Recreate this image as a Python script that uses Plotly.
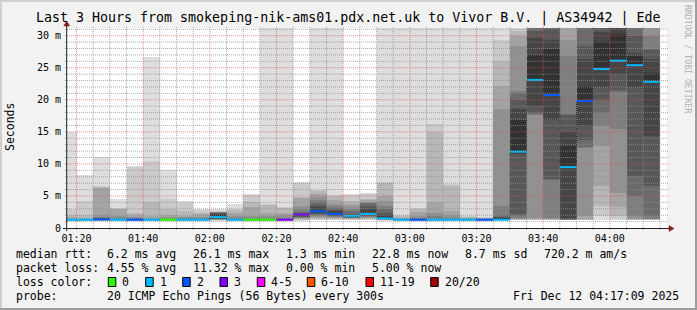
import plotly.graph_objects as go
import pandas as pd

# ---------------- data ----------------
title_text = "Last 3 Hours from smokeping-nik-ams01.pdx.net.uk to Vivor B.V. | AS34942 | Ede"
day = "2025-12-12"
window_start = "01:17:09"
window_end = "04:17:09"

interval_end = ["01:20", "01:25", "01:30", "01:35", "01:40", "01:45", "01:50", "01:55", "02:00",
                "02:05", "02:10", "02:15", "02:20", "02:25", "02:30", "02:35", "02:40", "02:45",
                "02:50", "02:55", "03:00", "03:05", "03:10", "03:15", "03:20", "03:25", "03:30",
                "03:35", "03:40", "03:45", "03:50", "03:55", "04:00", "04:05", "04:10", "04:15"]

median_ms = [1.3, 1.3, 1.35, 1.3, 1.3, 1.3, 1.3, 1.3, 1.3, 1.7, 1.3, 1.3, 1.3, 1.3, 2.1, 2.6, 2.2, 1.9,
             2.2, 1.5, 1.3, 1.3, 1.3, 1.3, 1.3, 1.3, 1.3, 11.9, 23.1, 20.75, 9.5, 19.8, 24.8, 26.1,
             25.4, 22.8]

lost_pings = [1, 1, 2, 1, 2, 1, 0, 1, 1, 1, 1, 0, 0, 3, 3, 2, 2, 1, 1, 1, 1, 2, 1, 1, 1, 2, 1, 1, 1,
              2, 1, 2, 1, 1, 1, 1]

# 20 sorted ping round-trip times (ms) per 5-minute interval
ping_rtts = [
    [1.15, 1.2, 1.22, 1.24, 1.26, 1.27, 1.28, 1.29, 1.3, 1.31, 1.32, 1.34, 1.36, 1.4, 1.45, 1.55, 1.8, 2.1, 3.0, 15.0],
    [1.15, 1.2, 1.22, 1.24, 1.26, 1.27, 1.28, 1.29, 1.3, 1.31, 1.32, 1.34, 1.36, 1.4, 1.45, 1.5, 1.6, 2.1, 4.2, 8.2],
    [1.15, 1.2, 1.22, 1.24, 1.26, 1.28, 1.3, 1.32, 1.34, 1.36, 1.38, 1.42, 1.5, 1.6, 1.8, 2.1, 6.3, 6.4, 6.5, 11.0],
    [1.15, 1.2, 1.22, 1.24, 1.26, 1.27, 1.28, 1.29, 1.3, 1.31, 1.33, 1.35, 1.4, 1.5, 1.6, 1.85, 3.0, 3.1, 3.15, 4.6],
    [1.15, 1.2, 1.22, 1.24, 1.26, 1.27, 1.28, 1.29, 1.3, 1.31, 1.33, 1.35, 1.4, 1.5, 1.6, 1.8, 2.1, 2.3, 9.6, 9.65],
    [1.15, 1.2, 1.22, 1.24, 1.26, 1.27, 1.28, 1.29, 1.3, 1.31, 1.33, 1.35, 1.4, 1.45, 1.5, 1.6, 1.85, 4.1, 10.4, 26.6],
    [1.15, 1.2, 1.22, 1.24, 1.26, 1.27, 1.28, 1.29, 1.3, 1.31, 1.33, 1.35, 1.4, 1.45, 1.55, 1.85, 2.0, 3.0, 4.5, 9.0],
    [1.15, 1.2, 1.22, 1.24, 1.26, 1.27, 1.28, 1.29, 1.3, 1.31, 1.33, 1.35, 1.4, 1.5, 1.6, 1.75, 1.85, 2.6, 4.0, 4.15],
    [1.15, 1.2, 1.22, 1.24, 1.26, 1.27, 1.28, 1.29, 1.3, 1.31, 1.33, 1.35, 1.4, 1.5, 1.6, 1.7, 2.2, 2.4, 2.85, 2.9],
    [1.15, 1.25, 1.3, 1.35, 1.4, 1.45, 1.5, 1.55, 1.6, 1.85, 2.1, 2.3, 2.35, 2.4, 2.5, 2.55, 2.6, 2.65, 2.7, 3.0],
    [1.15, 1.2, 1.22, 1.24, 1.26, 1.27, 1.28, 1.29, 1.3, 1.31, 1.33, 1.35, 1.4, 1.5, 1.6, 1.8, 2.4, 2.9, 3.0, 3.8],
    [1.15, 1.2, 1.22, 1.24, 1.26, 1.27, 1.28, 1.29, 1.3, 1.31, 1.33, 1.35, 1.4, 1.5, 1.6, 1.85, 3.3, 4.1, 5.2, 5.3],
    [1.15, 1.2, 1.22, 1.24, 1.26, 1.27, 1.28, 1.29, 1.3, 1.31, 1.33, 1.35, 1.4, 1.5, 1.6, 1.8, 2.3, 3.6, 3.7, 40.0],
    [1.15, 1.2, 1.22, 1.24, 1.26, 1.27, 1.28, 1.29, 1.3, 1.31, 1.33, 1.35, 1.4, 1.5, 1.7, 2.0, 2.4, 3.15, 3.2, 40.0],
    [1.2, 1.3, 1.4, 1.5, 1.6, 1.7, 1.75, 1.8, 1.9, 2.0, 2.1, 2.2, 2.4, 2.6, 2.9, 3.4, 4.8, 4.9, 7.05, 7.1],
    [1.3, 1.4, 1.5, 1.65, 1.8, 1.95, 2.1, 2.25, 2.4, 2.55, 2.7, 3.2, 3.6, 4.0, 4.4, 4.8, 5.3, 5.8, 6.0, 40.0],
    [1.3, 1.4, 1.5, 1.6, 1.7, 1.8, 1.9, 2.0, 2.1, 2.2, 2.4, 2.7, 2.9, 3.2, 3.4, 3.8, 4.4, 5.0, 5.1, 40.0],
    [1.25, 1.35, 1.45, 1.55, 1.6, 1.65, 1.7, 1.75, 1.8, 1.85, 1.95, 2.1, 2.3, 2.6, 3.0, 3.4, 3.8, 4.2, 5.2, 5.3],
    [1.3, 1.4, 1.5, 1.6, 1.7, 1.8, 1.9, 2.0, 2.1, 2.2, 2.4, 3.0, 3.5, 3.9, 4.0, 4.2, 4.4, 4.5, 5.35, 5.4],
    [1.2, 1.25, 1.3, 1.35, 1.4, 1.45, 1.5, 1.55, 1.6, 1.7, 1.8, 2.0, 2.4, 2.9, 3.4, 4.2, 5.0, 7.1, 7.2, 40.0],
    [1.15, 1.2, 1.22, 1.24, 1.26, 1.27, 1.28, 1.29, 1.3, 1.31, 1.33, 1.35, 1.4, 1.45, 1.5, 1.6, 1.7, 1.9, 2.1, 40.0],
    [1.15, 1.2, 1.22, 1.24, 1.26, 1.27, 1.28, 1.29, 1.3, 1.31, 1.33, 1.35, 1.4, 1.5, 1.6, 1.9, 2.5, 3.0, 3.15, 40.0],
    [1.15, 1.2, 1.22, 1.24, 1.26, 1.27, 1.28, 1.29, 1.3, 1.31, 1.33, 1.35, 1.4, 1.5, 1.8, 2.4, 4.0, 15.0, 16.2, 40.0],
    [1.15, 1.2, 1.22, 1.24, 1.26, 1.27, 1.28, 1.29, 1.3, 1.31, 1.33, 1.35, 1.4, 1.5, 1.7, 2.0, 2.6, 6.5, 6.9, 40.0],
    [1.15, 1.2, 1.22, 1.24, 1.26, 1.27, 1.28, 1.29, 1.3, 1.31, 1.33, 1.35, 1.4, 1.45, 1.5, 1.6, 1.7, 1.75, 1.8, 40.0],
    [1.15, 1.2, 1.22, 1.24, 1.26, 1.27, 1.28, 1.29, 1.3, 1.31, 1.33, 1.35, 1.4, 1.45, 1.5, 1.55, 1.6, 1.65, 1.7, 40.0],
    [1.2, 1.25, 1.28, 1.3, 1.32, 1.35, 1.4, 1.45, 1.5, 1.55, 1.6, 1.7, 1.85, 2.1, 3.4, 18.5, 22.1, 26.0, 29.3, 40.0],
    [1.3, 1.35, 1.4, 1.45, 1.5, 1.6, 1.8, 2.2, 11.6, 11.9, 16.9, 18.5, 20.0, 21.1, 21.3, 28.4, 29.9, 30.8, 31.1, 40.0],
    [1.3, 1.35, 1.4, 1.5, 1.6, 17.7, 17.8, 17.9, 19.0, 23.1, 27.0, 29.7, 30.8, 35.0, 40.0, 45.0, 50.0, 55.0, 60.0, 70.0],
    [1.3, 1.35, 1.4, 1.45, 1.5, 1.55, 7.5, 7.6, 16.9, 20.75, 27.9, 29.4, 31.0, 35.0, 40.0, 45.0, 50.0, 55.0, 60.0, 70.0],
    [1.3, 1.32, 1.34, 1.36, 1.38, 1.4, 1.42, 1.45, 1.5, 9.5, 12.8, 15.0, 17.7, 17.8, 26.8, 29.4, 31.3, 35.0, 40.0, 45.0],
    [1.3, 1.35, 1.4, 1.5, 1.8, 12.5, 12.6, 13.8, 15.9, 19.8, 22.1, 26.3, 28.4, 31.3, 35.0, 40.0, 45.0, 50.0, 55.0, 60.0],
    [1.3, 1.8, 3.4, 6.5, 12.8, 15.9, 17.9, 20.0, 22.0, 24.8, 29.2, 30.5, 31.5, 35.0, 40.0, 45.0, 50.0, 55.0, 60.0, 70.0],
    [1.3, 1.4, 1.8, 3.2, 5.5, 15.4, 21.3, 21.5, 24.1, 26.1, 30.3, 31.5, 35.0, 40.0, 45.0, 50.0, 55.0, 60.0, 70.0, 80.0],
    [1.3, 1.35, 1.4, 1.45, 1.5, 1.8, 5.0, 8.1, 22.0, 25.4, 26.8, 27.3, 29.9, 31.5, 35.0, 40.0, 45.0, 50.0, 55.0, 60.0],
    [1.3, 1.35, 1.4, 1.42, 1.45, 1.5, 1.8, 6.5, 14.3, 22.8, 24.2, 26.3, 27.8, 28.0, 29.9, 31.5, 35.0, 40.0, 45.0, 50.0],
]

y_tick_values = [0, 5, 10, 15, 20, 25, 30]
y_tick_labels = ["0", "5 m", "10 m", "15 m", "20 m", "25 m", "30 m"]

loss_labels = ["0", "1", "2", "3", "4-5", "6-10", "11-19", "20/20"]
loss_upper = [0, 1, 2, 3, 5, 10, 19, 20]
loss_colors = ["#26ff00", "#00b8ff", "#0059ff", "#7e00ff", "#ff00ff", "#ff5500", "#ff0000", "#a10000"]

stats_rows = [
    ["median rtt:", "6.2 ms avg", "26.1 ms max", "1.3 ms min", "22.8 ms now", "8.7 ms sd", "720.2 m am/s"],
    ["packet loss:", "4.55 % avg", "11.32 % max", "0.00 % min", "5.00 % now"],
]
probe_text = ["probe:", "20 ICMP Echo Pings (56 Bytes) every 300s", "Fri Dec 12 04:17:09 2025"]
watermark = "RRDTOOL / TOBI OETIKER"

# ---------------- layout constants ----------------
FIG_W, FIG_H = 697, 310
L, T, W, H = 67, 28, 600, 200
Y_MAX = 31.2
MONO = "DejaVu Sans Mono"
BACK = "#F2F2F2"


def xp(X):
    return (X - L) / W


def yp(Y):
    return (T + H - Y) / H


ends = pd.to_datetime([f"{day} {t}" for t in interval_end])
starts = ends - pd.Timedelta(minutes=5)
centers = ends - pd.Timedelta(seconds=150)
t0 = pd.Timestamp(f"{day} {window_start}")
t1 = pd.Timestamp(f"{day} {window_end}")

fig = go.Figure()

# smoke: band between consecutive sorted pings, shaded by rank (smokeping style)
n_ping = len(ping_rtts[0])
half = n_ping / 2
for k in range(n_ping - 1):
    r = k + 1
    ibot = min(r, n_ping - r)
    g = int(190 / half * (half - ibot)) + 50
    base = [p[k] for p in ping_rtts]
    height = [p[k + 1] - p[k] for p in ping_rtts]
    fig.add_trace(go.Bar(x=centers, y=height, base=base, width=300000,
                         marker=dict(color=f"rgb({g},{g},{g})", line=dict(width=0)),
                         showlegend=False, hoverinfo="skip"))

# median connector (step line)
step_x = list(starts) + [ends[-1]]
step_y = list(median_ms) + [median_ms[-1]]
fig.add_trace(go.Scatter(x=step_x, y=step_y, mode="lines", line=dict(shape="hv", color="#202020", width=1, dash="1px,1px"),
                         showlegend=False, hoverinfo="skip"))


def loss_bucket(n):
    for i, up in enumerate(loss_upper):
        if n <= up:
            return i
    return len(loss_upper) - 1


for bi in range(len(loss_labels)):
    xs, ys = [], []
    for s, e, m, lp in zip(starts, ends, median_ms, lost_pings):
        if loss_bucket(lp) == bi:
            xs += [s, e, None]
            ys += [m, m, None]
    if xs:
        fig.add_trace(go.Scatter(x=xs, y=ys, mode="lines", line=dict(color=loss_colors[bi], width=2),
                                 showlegend=False, hoverinfo="skip"))

shapes = []
GRID = "rgba(143,143,143,0.75)"
MGRID = "rgba(222,79,79,0.6)"
# horizontal grid
for v in range(1, int(Y_MAX) + 1):
    shapes.append(dict(type="line", xref="paper", yref="y", x0=xp(L - 2), x1=xp(L + W + 2), y0=v, y1=v,
                       line=dict(color=MGRID if v % 5 == 0 else GRID, width=1, dash="1px,1px"), layer="above"))
# vertical grid
tt = pd.Timestamp(f"{day} 01:20")
while tt < t1:
    major = (tt.minute % 20 == 0)
    shapes.append(dict(type="line", xref="x", yref="paper", x0=tt, x1=tt, y0=yp(T + H + 2), y1=yp(T - 2),
                       line=dict(color=MGRID if major else GRID, width=1, dash="1px,1px"), layer="above"))
    tt += pd.Timedelta(minutes=5)
tt = pd.Timestamp(f"{day} 01:20")
while tt < t1 + pd.Timedelta(minutes=1):
    tt += pd.Timedelta(minutes=5)

AXIS = "#1F1F1F"
ARROW = "#801F1F"
# axes lines
shapes.append(dict(type="line", xref="paper", yref="paper", x0=xp(L - 0.3), x1=xp(L - 0.3), y0=yp(T + H + 3), y1=yp(T - 5),
                   line=dict(color=AXIS, width=1), layer="above"))
shapes.append(dict(type="line", xref="paper", yref="paper", x0=xp(L - 4), x1=xp(L + W + 6), y0=yp(T + H + 0.5), y1=yp(T + H + 0.5),
                   line=dict(color=AXIS, width=1), layer="above"))
# arrows
ax = L - 0.3
shapes.append(dict(type="path", xref="paper", yref="paper",
                   path=f"M {xp(ax-3)},{yp(T-2)} L {xp(ax+3)},{yp(T-2)} L {xp(ax)},{yp(T-7)} Z",
                   fillcolor=ARROW, line=dict(color=ARROW, width=0.5), layer="above"))
ay = T + H + 0.5
shapes.append(dict(type="path", xref="paper", yref="paper",
                   path=f"M {xp(L+W+2)},{yp(ay-3)} L {xp(L+W+2)},{yp(ay+3)} L {xp(L+W+7)},{yp(ay)} Z",
                   fillcolor=ARROW, line=dict(color=ARROW, width=0.5), layer="above"))
# frame shading
shapes.append(dict(type="rect", xref="paper", yref="paper", x0=xp(0), x1=xp(FIG_W), y0=yp(0), y1=yp(2),
                   fillcolor="#CFCFCF", line=dict(width=0), layer="above"))
shapes.append(dict(type="rect", xref="paper", yref="paper", x0=xp(0), x1=xp(2), y0=yp(0), y1=yp(FIG_H),
                   fillcolor="#CFCFCF", line=dict(width=0), layer="above"))
shapes.append(dict(type="rect", xref="paper", yref="paper", x0=xp(0), x1=xp(FIG_W), y0=yp(FIG_H - 2), y1=yp(FIG_H),
                   fillcolor="#9E9E9E", line=dict(width=0), layer="above"))
shapes.append(dict(type="rect", xref="paper", yref="paper", x0=xp(FIG_W - 2), x1=xp(FIG_W), y0=yp(0), y1=yp(FIG_H),
                   fillcolor="#9E9E9E", line=dict(width=0), layer="above"))

annotations = []


def text_at(X, Y, s, size=11.5, color="black", anchor="left", angle=0):
    annotations.append(dict(text=s, x=xp(X), y=yp(Y), xref="paper", yref="paper", showarrow=False,
                            xanchor=anchor, yanchor="middle", textangle=angle, borderpad=0, borderwidth=0,
                            font=dict(family=MONO, size=size, color=color)))


text_at(348, 18.5, title_text, size=13.3, anchor="center")
text_at(10, 127, "Seconds", size=11.5, anchor="center", angle=-90)
text_at(688, 59, watermark, size=8.2, color="#B0B0B0", anchor="center", angle=90)

col_x = [16, 107.3, 192.7, 286, 372.3, 465.3, 544]
row_y = [254, 268, 282, 296]
for ri, row in enumerate(stats_rows):
    for ci, s in enumerate(row):
        text_at(col_x[ci], row_y[ri], s)

text_at(16, row_y[2], "loss color:")
box_x = [108.3, 145.7, 182.7, 220, 257.3, 307.3, 366, 430.7]
for bx, lab, col in zip(box_x, loss_labels, loss_colors):
    shapes.append(dict(type="rect", xref="paper", yref="paper", x0=xp(bx), x1=xp(bx + 7.5), y0=yp(row_y[2] + 4.5),
                       y1=yp(row_y[2] - 4.5), fillcolor=col, line=dict(color="black", width=1), layer="above"))
    text_at(bx + 14, row_y[2], lab)

text_at(16, row_y[3], probe_text[0])
text_at(107.3, row_y[3], probe_text[1])
text_at(513.3, row_y[3], probe_text[2])

fig.update_layout(
    width=FIG_W, height=FIG_H,
    margin=dict(l=L, r=FIG_W - L - W, t=T, b=FIG_H - T - H, pad=0),
    paper_bgcolor=BACK, plot_bgcolor="white",
    barmode="overlay", bargap=0,
    shapes=shapes, annotations=annotations,
    showlegend=False,
    xaxis=dict(type="date", range=[t0, t1], showgrid=False, zeroline=False, showline=False,
               tickformat="%H:%M", dtick=1200000, tick0=f"{day} 01:20", ticks="",
               tickfont=dict(family=MONO, size=10, color="black"), ticklabelstandoff=3),
    yaxis=dict(range=[0, Y_MAX], showgrid=False, zeroline=False, showline=False,
               tickvals=y_tick_values, ticktext=y_tick_labels, ticks="",
               tickfont=dict(family=MONO, size=10, color="black"), ticklabelstandoff=5),
)

fig.write_html("out.html")
